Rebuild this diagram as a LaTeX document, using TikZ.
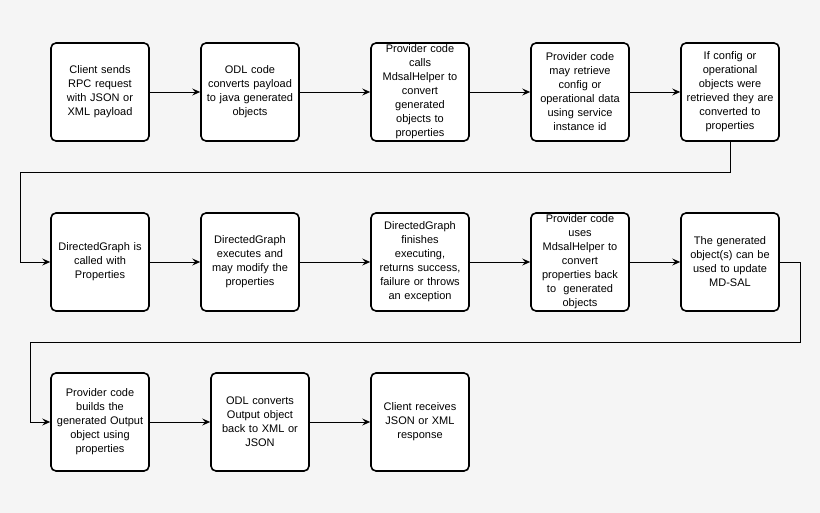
\documentclass[tikz,border=0pt]{standalone}
\usepackage{fontspec}
\setmainfont{Liberation Sans}
\usetikzlibrary{arrows.meta}
\begin{document}
\begin{tikzpicture}[x=1pt,y=-1pt,
  box/.style={draw=black,line width=1.6pt,rounded corners=5pt,fill=white,minimum width=98pt,minimum height=98pt,text width=96pt,align=center,inner sep=1pt,font=\fontsize{11}{14}\selectfont},
  arr/.style={draw=black,line width=0.9pt,-{Stealth[length=8pt,width=7pt,inset=3pt]}}]
\fill[black!4] (0,0) rectangle (820,513);
\useasboundingbox (0,0) rectangle (820,513);
\node[box] (a1) at (100,92) {Client sends\\RPC request\\with JSON or\\XML payload};
\node[box] (a2) at (250,92) {ODL code\\converts payload\\to java generated\\objects};
\node[box] (a3) at (420,92) {Provider code\\calls\\MdsalHelper to\\convert\\generated\\objects to\\properties};
\node[box] (a4) at (580,92) {Provider code\\may retrieve\\config or\\operational data\\using service\\instance id};
\node[box] (a5) at (730,92) {If config or\\operational\\objects were\\retrieved they are\\converted to\\properties};
\node[box] (b1) at (100,262) {DirectedGraph is\\called with\\Properties};
\node[box] (b2) at (250,262) {DirectedGraph\\executes and\\may modify the\\properties};
\node[box] (b3) at (420,262) {DirectedGraph\\finishes\\executing,\\returns success,\\failure or throws\\an exception};
\node[box] (b4) at (580,262) {Provider code\\uses\\MdsalHelper to\\convert\\properties back\\to \ generated\\objects};
\node[box] (b5) at (730,262) {The generated\\object(s) can be\\used to update\\MD-SAL};
\node[box] (c1) at (100,422) {Provider code\\builds the\\generated Output\\object using\\properties};
\node[box] (c2) at (260,422) {ODL converts\\Output object\\back to XML or\\JSON};
\node[box] (c3) at (420,422) {Client receives\\JSON or XML\\response};
\coordinate (t1) at (730,172); \coordinate (t2) at (20,172);
\coordinate (u1) at (800,262); \coordinate (u2) at (800,342); \coordinate (u3) at (30,342);
\draw[arr] (a1) -- (a2);
\draw[arr] (a2) -- (a3);
\draw[arr] (a3) -- (a4);
\draw[arr] (a4) -- (a5);
\draw[arr] (a5.south) -- (t1) -- (t2) |- (b1.west);
\draw[arr] (b1) -- (b2);
\draw[arr] (b2) -- (b3);
\draw[arr] (b3) -- (b4);
\draw[arr] (b4) -- (b5);
\draw[arr] (b5.east) -- (u1) -- (u2) -- (u3) |- (c1.west);
\draw[arr] (c1) -- (c2);
\draw[arr] (c2) -- (c3);
\end{tikzpicture}
\end{document}
